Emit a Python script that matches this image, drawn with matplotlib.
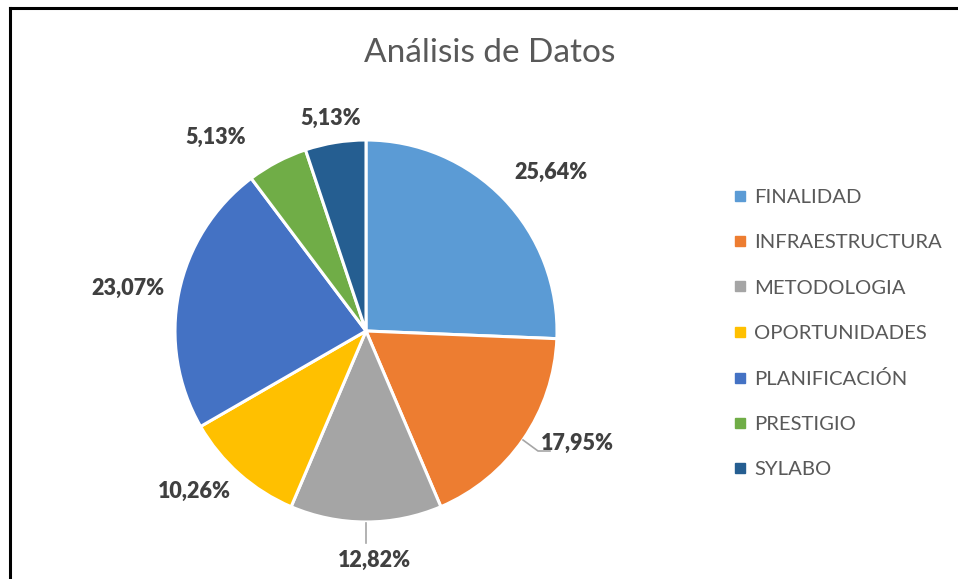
import matplotlib.pyplot as plt
from matplotlib.lines import Line2D

categories = ["FINALIDAD", "INFRAESTRUCTURA", "METODOLOGIA", "OPORTUNIDADES",
              "PLANIFICACIÓN", "PRESTIGIO", "SYLABO"]
values = [25.64, 17.95, 12.82, 10.26, 23.07, 5.13, 5.13]
labels = ["25,64%", "17,95%", "12,82%", "10,26%", "23,07%", "5,13%", "5,13%"]
colors = ["#5B9BD5", "#ED7D31", "#A5A5A5", "#FFC000", "#4472C4", "#70AD47", "#255E91"]

W, H = 958, 579
fig = plt.figure(figsize=(W / 100, H / 100), dpi=100)
ax = fig.add_axes([0, 0, 1, 1])


def py(y):
    # pixel row (from top) -> data y
    return H - y


# pie in pixel space, center and radius
cx, cy, R = 366, 331, 191
wedges, _ = ax.pie(values, colors=colors, startangle=90, counterclock=False,
                   center=(cx, py(cy)), radius=R, frame=True,
                   wedgeprops=dict(edgecolor="white", linewidth=2.2))
ax.set_xlim(0, W)
ax.set_ylim(0, H)
ax.set_aspect("equal")
ax.axis("off")

# label positions (pixels from top-left)
label_xy = [(551, 172), (577, 443), (374, 560), (194, 491), (128, 288), (216, 137), (331, 118)]
for (x, y), t in zip(label_xy, labels):
    ax.text(x, py(y), t, ha="center", va="center", fontsize=15.5, fontweight="heavy",
            color="#404040", family="Lato")

# leader lines
ax.plot([523, 538, 550], [py(440), py(451), py(451)], color="#A6A6A6", lw=1.2)
ax.plot([366, 366], [py(523), py(543)], color="#A6A6A6", lw=1.2)

ax.text(490, py(53), "Análisis de Datos", ha="center", va="center", fontsize=24,
        color="#595959", family="Lato")

handles = [Line2D([], [], marker="s", linestyle="none", markersize=6.5,
                  markerfacecolor=c, markeredgecolor=c) for c in colors]
leg = ax.legend(handles, categories, loc="upper left", bbox_to_anchor=(735 / W, 1 - 189 / H),
                frameon=False, handlelength=0.5, handletextpad=0.45, labelspacing=1.38,
                prop=dict(family="Lato", size=14.6), borderaxespad=0, borderpad=0)
for t in leg.get_texts():
    t.set_color("#595959")

# chart frame (only left and top edges visible)
fig.add_artist(Line2D([9.5 / W, 9.5 / W], [0, 1 - 7.5 / H], color="black", lw=2.2))
fig.add_artist(Line2D([9.5 / W, 1], [1 - 7.5 / H, 1 - 7.5 / H], color="black", lw=2.2))

fig.savefig("out.png", dpi=100)
